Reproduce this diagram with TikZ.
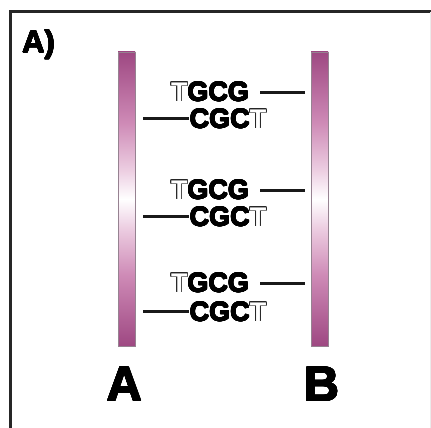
\documentclass[tikz,border=0pt]{standalone}
\usepackage{fontspec}
\setmainfont{Liberation Sans}
\usepackage{contour}
\contourlength{0.8pt}
\definecolor{barp}{RGB}{158,72,130}
\definecolor{barmid}{RGB}{206,138,182}
\definecolor{barlight}{RGB}{236,205,225}
\definecolor{barline}{RGB}{150,130,145}
\pgfdeclareverticalshading{barshade}{100bp}{color(0bp)=(barp); color(25bp)=(barp); color(37bp)=(barmid); color(45bp)=(barlight); color(50bp)=(white); color(55bp)=(barlight); color(63bp)=(barmid); color(75bp)=(barp); color(100bp)=(barp)}
\newcommand{\hollowT}{{\color{white}\contour{black!85}{T}}}
\newcommand{\heavy}[1]{{\contourlength{0.45pt}\contour{black}{#1}}}
\begin{document}
\begin{tikzpicture}[x=1pt,y=-1pt,
  dna/.style={inner sep=0pt,font=\fontsize{27}{27}\selectfont\bfseries},
  link/.style={line width=3pt,black!90},
  barbox/.style={draw=barline,line width=0.5pt,shading=barshade},
  lbl/.style={inner sep=0pt,font=\fontsize{49}{49}\selectfont\bfseries}]
\useasboundingbox (0,0) rectangle (431,428);
% frame
\draw[line width=3pt,black!85] (9,12) -- (431,12);
\draw[line width=3pt,black!85] (10.5,10.5) -- (10.5,428);
\draw[line width=0.8pt,black!8] (430,12) -- (430,428);
\node[inner sep=0pt,anchor=north west,font=\fontsize{31}{31}\selectfont\bfseries] (title) at (22,30) {\heavy{A)}};
% bars
\node[barbox,inner sep=0pt,minimum width=17pt,minimum height=294pt] (barA) at (126.5,199) {};
\node[barbox,inner sep=0pt,minimum width=17pt,minimum height=294pt] (barB) at (319.5,199) {};
% base pairs
\foreach \i/\ty/\cy in {1/92/119, 2/190/217, 3/283/312}{
  \node[dna] (t\i) at (210,\ty) {\hollowT\heavy{GCG}};
  \node[dna] (c\i) at (228,\cy) {\heavy{CGC}\hollowT};
  \coordinate (r\i) at (305,\ty);
  \coordinate (l\i) at (143,\cy-1);
  \draw[link] ([xshift=11pt]t\i.east) -- (r\i);
  \draw[link] (l\i) -- ([xshift=-1pt,yshift=1pt]c\i.west);
}
% labels
\node[lbl] (labA) at (124.5,384.5) {\heavy{A}};
\node[lbl] (labB) at (322,384.5) {\heavy{B}};
\end{tikzpicture}
\end{document}
